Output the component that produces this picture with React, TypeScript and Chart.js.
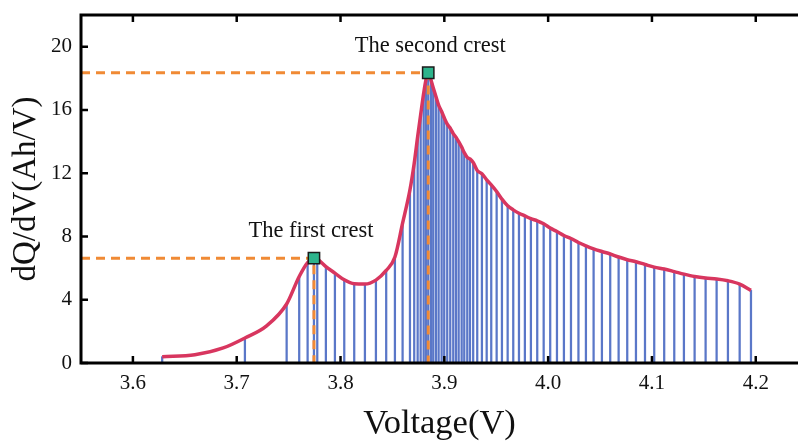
import React, { useEffect, useRef } from 'react';
import { Chart, registerables } from 'chart.js';

Chart.register(...registerables);

// Smooth dQ/dV curve (voltage in V, dQ/dV in Ah/V)
const curveVoltage = [
  3.6282, 3.6597, 3.687, 3.7079, 3.7288, 3.7481, 3.7602, 3.7683, 3.7744, 3.7776,
  3.7859, 3.7946, 3.8036, 3.8132, 3.8235, 3.8341, 3.844, 3.8524, 3.8598, 3.8669,
  3.871, 3.8743, 3.8772, 3.8801, 3.8823, 3.8845, 3.8871, 3.8893, 3.8919, 3.8945,
  3.8974, 3.8999, 3.9028, 3.9057, 3.9086, 3.9112, 3.9138, 3.9167, 3.9192, 3.9221,
  3.9247, 3.9278, 3.9317, 3.9362, 3.9408, 3.9452, 3.9504, 3.9555, 3.961, 3.9664,
  3.9719, 3.9776, 3.9834, 3.9895, 3.9957, 4.002, 4.0085, 4.0152, 4.022, 4.0292,
  4.0364, 4.0438, 4.0518, 4.0598, 4.0679, 4.0762, 4.0846, 4.0933, 4.1022, 4.1118,
  4.1215, 4.1308, 4.1411, 4.1517, 4.1623, 4.1732, 4.1845, 4.1954,
];
const curveDqdv = [
  0.4, 0.52, 0.95, 1.58, 2.35, 3.73, 5.47, 6.35, 6.63, 6.57,
  6.1, 5.68, 5.26, 5.01, 4.99, 5.24, 5.85, 6.7, 8.84, 10.95,
  12.63, 14.3, 15.7, 17.05, 17.9, 18.35, 17.9, 17.4, 16.85, 16.3,
  15.9, 15.5, 15.1, 14.85, 14.5, 14.28, 14.0, 13.65, 13.3, 13.0,
  12.9, 12.68, 12.17, 11.96, 11.58, 11.26, 10.84, 10.36, 9.94, 9.68,
  9.47, 9.3, 9.12, 8.99, 8.8, 8.53, 8.31, 8.06, 7.87, 7.62,
  7.41, 7.22, 7.05, 6.89, 6.7, 6.53, 6.4, 6.23, 6.06, 5.94,
  5.78, 5.62, 5.47, 5.37, 5.31, 5.2, 4.99, 4.59,
];

// Vertical stems (sampled points)
const stemVoltage = [
  3.6282, 3.7079, 3.7481, 3.7602, 3.7683, 3.7744, 3.7776,
  3.7859, 3.7946, 3.8036, 3.8132, 3.8235, 3.8341, 3.844, 3.8524, 3.8598, 3.8669,
  3.871, 3.8743, 3.8772, 3.8801, 3.8823, 3.8845, 3.8871, 3.8893, 3.8919, 3.8945,
  3.8974, 3.8999, 3.9028, 3.9057, 3.9086, 3.9112, 3.9138, 3.9167, 3.9192, 3.9221,
  3.9247, 3.9278, 3.9317, 3.9362, 3.9408, 3.9452, 3.9504, 3.9555, 3.961, 3.9664,
  3.9719, 3.9776, 3.9834, 3.9895, 3.9957, 4.002, 4.0085, 4.0152, 4.022, 4.0292,
  4.0364, 4.0438, 4.0518, 4.0598, 4.0679, 4.0762, 4.0846, 4.0933, 4.1022, 4.1118,
  4.1215, 4.1308, 4.1411, 4.1517, 4.1623, 4.1732, 4.1845, 4.1954,
];
const stemDqdv = [
  0.4, 1.58, 3.73, 5.47, 6.35, 6.63, 6.57,
  6.1, 5.68, 5.26, 5.01, 4.99, 5.24, 5.85, 6.7, 8.84, 10.95,
  12.63, 14.3, 15.7, 17.05, 17.9, 18.35, 17.9, 17.4, 16.85, 16.3,
  15.9, 15.5, 15.1, 14.85, 14.5, 14.28, 14.0, 13.65, 13.3, 13.0,
  12.9, 12.68, 12.17, 11.96, 11.58, 11.26, 10.84, 10.36, 9.94, 9.68,
  9.47, 9.3, 9.12, 8.99, 8.8, 8.53, 8.31, 8.06, 7.87, 7.62,
  7.41, 7.22, 7.05, 6.89, 6.7, 6.53, 6.4, 6.23, 6.06, 5.94,
  5.78, 5.62, 5.47, 5.37, 5.31, 5.2, 4.99, 4.59,
];

// Crests
const crestVoltage = [3.7744, 3.8845];
const crestDqdv = [6.63, 18.35];
const crestLabels = ['The first crest', 'The second crest'];
const crestLabelShift = [-3, 2];

// Axes
const xTicks = [3.6, 3.7, 3.8, 3.9, 4.0, 4.1, 4.2];
const yTicks = [0, 4, 8, 12, 16, 20];
const xMin = 3.55;
const xMax = 4.2407;
const yMin = 0;
const yMax = 22;

const SERIF = '"Liberation Serif", "Times New Roman", serif';

export default function App() {
  const ref = useRef<HTMLCanvasElement>(null);

  useEffect(() => {
    document.body.style.margin = '0';
    const canvas = ref.current;
    if (!canvas) return;

    const framePlugin = {
      id: 'frameAndLabels',
      afterDraw(chart: any) {
        const { ctx, chartArea: a, scales } = chart;
        const xs = scales.x;
        const ys = scales.y;
        ctx.save();
        ctx.strokeStyle = '#000';
        ctx.lineWidth = 3;
        ctx.lineJoin = 'miter';
        ctx.lineCap = 'butt';
        ctx.beginPath();
        ctx.moveTo(a.right + 2, a.top);
        ctx.lineTo(a.left, a.top);
        ctx.lineTo(a.left, a.bottom);
        ctx.lineTo(a.right + 2, a.bottom);
        ctx.stroke();

        ctx.lineWidth = 2.5;
        ctx.beginPath();
        xTicks.forEach((v) => {
          const px = xs.getPixelForValue(v);
          ctx.moveTo(px, a.bottom);
          ctx.lineTo(px, a.bottom - 7);
          ctx.moveTo(px, a.top);
          ctx.lineTo(px, a.top + 7);
        });
        yTicks.forEach((v) => {
          const py = ys.getPixelForValue(v);
          ctx.moveTo(a.left, py);
          ctx.lineTo(a.left + 7, py);
        });
        ctx.stroke();

        ctx.fillStyle = '#111';
        ctx.font = `22.5px ${SERIF}`;
        ctx.textAlign = 'center';
        ctx.textBaseline = 'alphabetic';
        crestLabels.forEach((t, i) => {
          const px = xs.getPixelForValue(crestVoltage[i]);
          const py = ys.getPixelForValue(crestDqdv[i]);
          ctx.fillText(t, px + crestLabelShift[i], py - 21);
        });
        ctx.restore();
      },
    };

    const dashSets = crestVoltage.map((v, i) => ({
      type: 'line' as const,
      data: [
        { x: xMin, y: crestDqdv[i] },
        { x: v, y: crestDqdv[i] },
        { x: v, y: yMin },
      ],
      borderColor: '#f08a35',
      borderWidth: 3,
      borderDash: [9, 6],
      pointRadius: 0,
      tension: 0,
      fill: false,
      order: 1,
    }));

    const chart = new Chart(canvas, {
      type: 'line',
      data: {
        datasets: [
          {
            type: 'scatter' as any,
            data: crestVoltage.map((v, i) => ({ x: v, y: crestDqdv[i] })),
            pointStyle: 'rect',
            pointRadius: 8,
            backgroundColor: '#2db48c',
            borderColor: '#1a1a1a',
            borderWidth: 1.5,
            showLine: false,
            order: 0,
          } as any,
          ...dashSets,
          {
            type: 'line' as const,
            data: curveVoltage.map((v, i) => ({ x: v, y: curveDqdv[i] })),
            borderColor: '#d8365f',
            borderWidth: 3.5,
            pointRadius: 0,
            cubicInterpolationMode: 'monotone',
            fill: false,
            order: 2,
          },
          {
            type: 'bar' as const,
            data: stemVoltage.map((v, i) => ({ x: v, y: stemDqdv[i] })),
            backgroundColor: '#5a77c8',
            borderWidth: 0,
            barThickness: 1.6,
            grouped: false,
            order: 3,
          } as any,
        ],
      },
      options: {
        responsive: false,
        animation: false,
        devicePixelRatio: 1,
        layout: { autoPadding: false, padding: { top: 15, right: 0, left: 0, bottom: 0 } },
        plugins: {
          legend: { display: false },
          tooltip: { enabled: false },
        },
        scales: {
          x: {
            type: 'linear',
            min: xMin,
            max: xMax,
            offset: false,
            grid: { display: false, drawTicks: false, offset: false },
            border: { display: false },
            afterBuildTicks: (s: any) => {
              s.ticks = xTicks.map((v) => ({ value: v }));
            },
            afterFit: (s: any) => {
              s.height = 78;
              s.paddingLeft = 0;
              s.paddingRight = 0;
            },
            ticks: {
              padding: 8,
              color: '#111',
              font: { family: SERIF, size: 21 },
              callback: (v: any) => Number(v).toFixed(1),
              maxRotation: 0,
              autoSkip: false,
            },
            title: {
              display: true,
              text: 'Voltage(V)',
              color: '#111',
              font: { family: SERIF, size: 34.5, lineHeight: 1 },
              padding: { top: 0, bottom: 0 },
            },
          },
          y: {
            type: 'linear',
            min: yMin,
            max: yMax,
            grid: { display: false, drawTicks: false },
            border: { display: false },
            afterBuildTicks: (s: any) => {
              s.ticks = yTicks.map((v) => ({ value: v }));
            },
            afterFit: (s: any) => {
              s.width = 81;
              s.paddingTop = 0;
              s.paddingBottom = 0;
            },
            ticks: {
              padding: 9,
              color: '#111',
              font: { family: SERIF, size: 21 },
              callback: (v: any) => String(v),
            },
            title: {
              display: true,
              text: 'dQ/dV(Ah/V)',
              color: '#111',
              font: { family: SERIF, size: 33, lineHeight: 1 },
              padding: { top: 10, bottom: 0 },
            },
          },
        },
      } as any,
      plugins: [framePlugin],
    });

    return () => {
      chart.destroy();
    };
  }, []);

  return (
    <canvas
      ref={ref}
      width={798}
      height={441}
      style={{ display: 'block', width: '798px', height: '441px' }}
    />
  );
}
